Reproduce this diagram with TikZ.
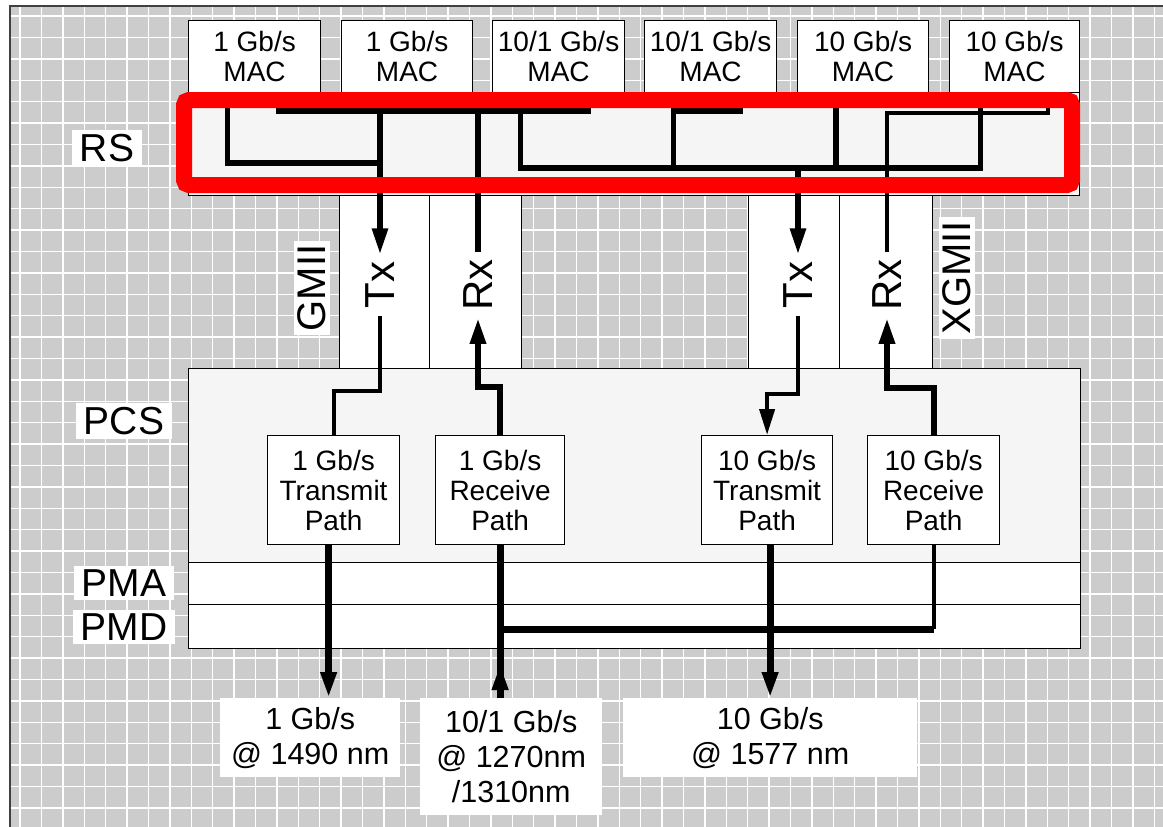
\documentclass[tikz,border=0pt]{standalone}
\usepackage{fontspec}
\setmainfont{Liberation Sans}
\usetikzlibrary{arrows.meta,calc}

\begin{document}
\begin{tikzpicture}[
    x=1pt, y=-1pt,
    every node/.style={font=\fontsize{28}{30}\selectfont, align=center, inner sep=0pt},
    blk/.style={draw, line width=1.2pt, fill=white, anchor=north west},
    layer/.style={draw, line width=1.2pt, fill=black!4, anchor=north west},
    outlbl/.style={fill=white, anchor=north west, font=\fontsize{30.5}{35}\selectfont},
    tag/.style={fill=white, inner xsep=8pt, inner ysep=4pt, font=\fontsize{39}{40}\selectfont},
    sig/.style={rotate=90, inner sep=7pt, font=\fontsize{42}{42}\selectfont},
    wire/.style={line width=4pt},
    bus/.style={line width=5.5pt},
    rxw/.style={line width=6pt},
    fat/.style={line width=7pt},
    tip/.style={-{Triangle[length=26pt,width=15pt]}},
  ]
\useasboundingbox (0,0) rectangle (1163,827);

% --- hatched backdrop
\fill[white] (0,0) rectangle (1163,827);
\fill[black!20] (10,6) rectangle (1163,827);
\foreach \gx in {0,...,53} \draw[white, line width=1.4pt] (20+21.4*\gx,6) -- ++(0,821);
\foreach \gy in {0,...,38} \draw[white, line width=1.4pt] (10,16+21.4*\gy) -- ++(1153,0);
\draw[black!75, line width=1.5pt] (10,827) -- (10,6) -- (1163,6);

% --- row y-positions of the RS wiring
\def\rTop{110}
\def\rLow{165}

% MAC row
\node[blk, minimum width=132pt, minimum height=72pt] (mac1) at (188,20) {1 Gb/s\\MAC};
\node[blk, minimum width=131pt, minimum height=72pt] (mac2) at (341,20) {1 Gb/s\\MAC};
\node[blk, minimum width=132pt, minimum height=72pt] (mac3) at (492,20) {10/1 Gb/s\\MAC};
\node[blk, minimum width=132pt, minimum height=72pt] (mac4) at (644,20) {10/1 Gb/s\\MAC};
\node[blk, minimum width=131pt, minimum height=72pt] (mac5) at (797,20) {10 Gb/s\\MAC};
\node[blk, minimum width=130pt, minimum height=72pt] (mac6) at (949,20) {10 Gb/s\\MAC};

% RS, GMII / XGMII columns, PCS, PMA, PMD
\node[layer, minimum width=891pt, minimum height=103pt] (rs) at (188,92) {};
\node[blk, minimum width=90pt, minimum height=173pt] (gtx) at (339,195) {};
\node[blk, minimum width=92pt, minimum height=173pt] (grx) at (429,195) {};
\node[blk, minimum width=91pt, minimum height=173pt] (xtx) at (748,195) {};
\node[blk, minimum width=93pt, minimum height=173pt] (xrx) at (839,195) {};
\node[layer, minimum width=892pt, minimum height=194pt] (pcs) at (188,368) {};
\node[blk, minimum width=892pt, minimum height=42pt] (pma) at (188,562) {};
\node[blk, minimum width=892pt, minimum height=44pt] (pmd) at (188,604) {};

% layer names
\node[tag] (lrs) at (107,148) {RS};
\node[tag] (lpcs) at (124,421) {PCS};
\node[tag] (lpma) at (124,583) {PMA};
\node[tag] (lpmd) at (124,627) {PMD};
\node[sig, fill=white, inner sep=4pt, font=\fontsize{40}{40}\selectfont] (lgmii) at (312,288) {GMII};
\node[sig, fill=white, inner sep=4pt, font=\fontsize{40}{40}\selectfont] (lxgmii) at (957,278) {XGMII};

% Tx / Rx signals
\node[sig] (txg) at (380,285) {Tx};
\node[sig] (rxg) at (478,285) {Rx};
\node[sig] (txx) at (798,285) {Tx};
\node[sig] (rxx) at (887,285) {Rx};

% PCS paths
\node[blk, minimum width=132pt, minimum height=109pt] (tp1) at (267,435) {1 Gb/s\\Transmit\\Path};
\node[blk, minimum width=129pt, minimum height=109pt] (rp1) at (435,435) {1 Gb/s\\Receive\\Path};
\node[blk, minimum width=131pt, minimum height=109pt] (tp10) at (701,435) {10 Gb/s\\Transmit\\Path};
\node[blk, minimum width=132pt, minimum height=109pt] (rp10) at (867,435) {10 Gb/s\\Receive\\Path};

% wavelengths
\node[outlbl, minimum width=180pt, minimum height=79pt] (out1) at (220,698) {1 Gb/s\\@ 1490 nm};
\node[outlbl, minimum width=182pt, minimum height=117pt] (out2) at (420,698) {10/1 Gb/s\\@ 1270nm\\/1310nm};
\node[outlbl, minimum width=294pt, minimum height=79pt] (out3) at (623,698) {10 Gb/s\\@ 1577 nm};

% RS wiring, 1 Gb/s side
\draw[bus] ($(mac1.south)+(-27,0)$) |- (txg.center |- 0,163);
\draw[bus] ($(mac1.south)+(24,0)$) |- ($(mac3.south)+(30,18)$) -- ($(mac3.south)+(30,0)$);
\draw[bus, tip] (txg.center |- 0,\rTop) -- (txg.east);
\draw[bus] (rxg.center |- 0,\rTop) -- (rxg.east);

% RS wiring, 10 Gb/s side
\draw[bus] ($(mac3.south)+(-38,0)$) |- ($(mac6.south)+(-34,75)$) -- ($(mac6.south)+(-34,0)$);
\draw[bus] ($(mac4.south)+(-37,0)$) -- ($(mac4.south)+(-37,75)$);
\draw[bus] ($(mac4.south)+(-37,18)$) -- ($(mac4.south)+(30,18)$) -- ($(mac4.south)+(30,0)$);
\draw[bus] ($(mac5.south)+(-27,0)$) -- ($(mac5.south)+(-27,75)$);
\draw[bus, tip] (txx.center |- 0,167) -- (txx.east);
\draw[wire] ($(mac6.south)+(33,0)$) |- (rxx.center |- 0,113) -- (rxx.east);

% highlight of the RS layer
\draw[red, line width=16pt, rounded corners=5pt] (184,100) rectangle (1072,185);

% GMII / XGMII to PCS
\draw[wire] (txg.west) -- ++(0,75) -| (tp1.north);
\draw[rxw, tip] (rp1.north) -- ++(0,-48) -| (rxg.west);
\draw[wire, tip] (txx.west) -- ++(0,78) -| (tp10.north);
\draw[rxw, tip] (rp10.north) -- ++(0,-47) -| (rxx.west);

% PMD to fibre
\draw[fat, tip] ([xshift=-5pt]tp1.south) -- ([xshift=-5pt]tp1.south |- out1.north);
\draw[fat] (rp1.south) -- (rp1.south |- out2.north);
\draw[fat, tip] (rp1.south |- out2.north) -- ++(0,-34);
\draw[fat, tip] ([xshift=3pt]tp10.south) -- ([xshift=3pt]tp10.south |- out3.north);
\draw[wire] (rp10.south) -- ++(0,84) coordinate (rxm);
\draw[fat] (rxm) -- (rxm -| rp1.south);
\end{tikzpicture}
\end{document}
